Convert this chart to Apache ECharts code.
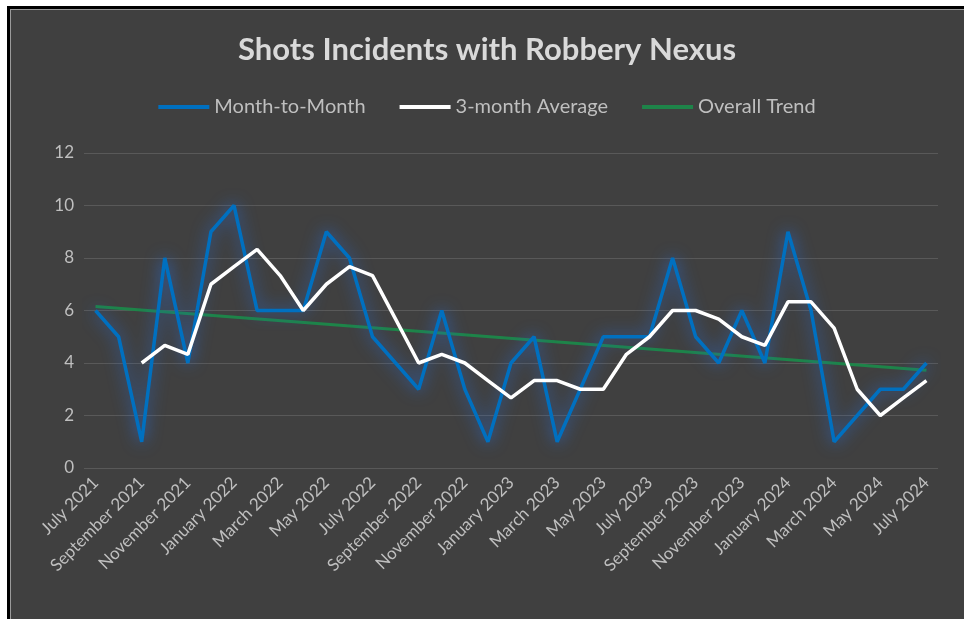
<!DOCTYPE html>
<html>
<head>
<meta charset="utf-8">
<script src="https://cdn.jsdelivr.net/npm/echarts@6/dist/echarts.min.js"></script>
<style>
  html, body { margin: 0; padding: 0; background: #fff; }
  #frame {
    position: absolute; left: 7px; top: 6px; width: 957px; height: 613px;
    background: #000;
  }
  #main {
    position: absolute; left: 10px; top: 9px; width: 954px; height: 610px;
    background: #404040; box-shadow: inset 1px 1px 0 #9a9a9a;
  }
</style>
</head>
<body>
<div id="frame"></div>
<div id="main"></div>
<script>
// months July 2021 .. July 2024
const months = [
  'July 2021','August 2021','September 2021','October 2021','November 2021','December 2021',
  'January 2022','February 2022','March 2022','April 2022','May 2022','June 2022',
  'July 2022','August 2022','September 2022','October 2022','November 2022','December 2022',
  'January 2023','February 2023','March 2023','April 2023','May 2023','June 2023',
  'July 2023','August 2023','September 2023','October 2023','November 2023','December 2023',
  'January 2024','February 2024','March 2024','April 2024','May 2024','June 2024',
  'July 2024'
];

const monthly = [6,5,1,8,4,9,10,6,6,6,9,8,5,4,3,6,3,1,4,5,1,3,5,5,5,8,5,4,6,4,9,6,1,2,3,3,4];

const avg3 = [null,null,4,4.67,4.33,7,7.67,8.33,7.33,6,7,7.67,7.33,5.67,4,4.33,4,3.33,
  2.67,3.33,3.33,3,3,4.33,5,6,6,5.67,5,4.67,6.33,6.33,5.33,3,2,2.67,3.33];

// trend line: only the end points
const trend = months.map(() => null);
trend[0] = 6.15;
trend[months.length - 1] = 3.72;

const yTicks = { min: 0, max: 12, step: 2 };

const labelColor = '#bfbfbf';
const chart = echarts.init(document.getElementById('main'));
chart.setOption({
  animation: false,
  textStyle: { fontFamily: 'Lato, sans-serif' },
  title: {
    text: 'Shots Incidents with Robbery Nexus',
    left: 'center', top: 20,
    textStyle: { color: '#d9d9d9', fontSize: 31, fontWeight: 'bold', fontFamily: 'Lato, sans-serif' }
  },
  legend: {
    top: 83, left: 'center',
    itemWidth: 51, itemHeight: 4, itemGap: 34,
    icon: 'rect',
    textStyle: { color: labelColor, fontSize: 20, fontFamily: 'Lato, sans-serif' },
    data: ['Month-to-Month', '3-month Average', 'Overall Trend']
  },
  grid: { left: 74, right: 26, top: 144, bottom: 151, containLabel: false },
  xAxis: {
    type: 'category', data: months, boundaryGap: true,
    axisLine: { show: false }, axisTick: { show: false },
    axisLabel: { interval: 1, rotate: 45, color: labelColor, fontSize: 17, margin: 12 }
  },
  yAxis: {
    type: 'value', min: yTicks.min, max: yTicks.max, interval: yTicks.step,
    axisLine: { show: false }, axisTick: { show: false },
    axisLabel: { color: labelColor, fontSize: 17, margin: 10 },
    splitLine: { lineStyle: { color: '#595959', width: 1 } }
  },
  series: [
    {
      name: 'Overall Trend', type: 'line', data: trend, connectNulls: true,
      symbol: 'none', z: 1,
      itemStyle: { color: '#1e8449' },
      lineStyle: { color: '#1e8449', width: 3 }
    },
    {
      name: 'Month-to-Month', type: 'line', data: monthly,
      symbol: 'none', z: 2,
      itemStyle: { color: '#0070c0' },
      lineStyle: { color: '#0070c0', width: 3.5, shadowColor: 'rgba(40,110,220,0.9)', shadowBlur: 16 }
    },
    {
      name: '3-month Average', type: 'line', data: avg3,
      symbol: 'none', z: 3,
      itemStyle: { color: '#ffffff' },
      lineStyle: { color: '#ffffff', width: 3.5 }
    }
  ]
});
</script>
</body>
</html>
